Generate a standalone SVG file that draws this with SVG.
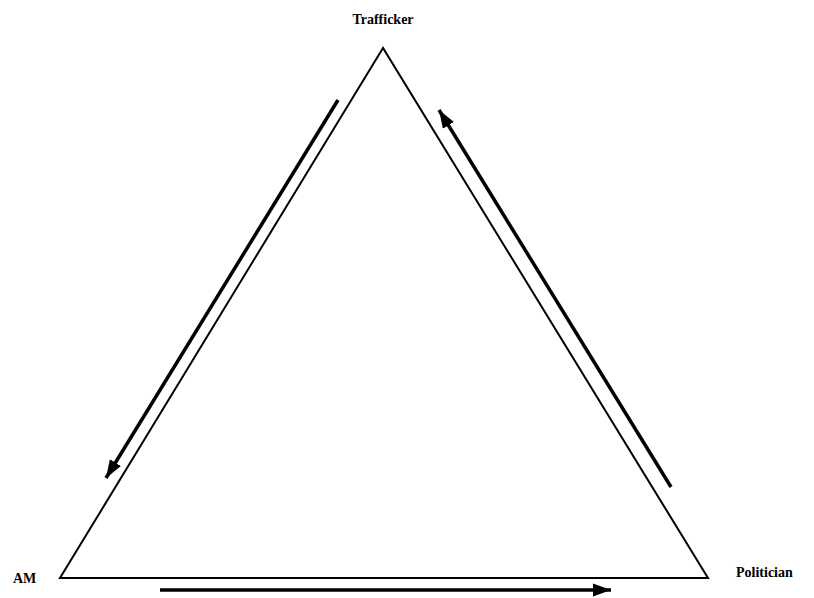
<svg xmlns="http://www.w3.org/2000/svg" width="814" height="598" viewBox="0 0 814 598">
<style>
.lbl{font-family:"Liberation Serif","Times New Roman",serif;font-weight:bold;font-size:14px;fill:#000}
.tri{fill:none;stroke:#000;stroke-width:2}
.arr{fill:none;stroke:#000;stroke-width:3.5;marker-end:url(#ah)}
</style>
<defs>
<marker id="ah" markerUnits="userSpaceOnUse" markerWidth="20" markerHeight="14" refX="18" refY="7" orient="auto">
<path d="M0,0.5 L18,7 L0,13.5 Z" fill="#000"/>
</marker>
</defs>
<rect width="814" height="598" fill="#fff"/>
<g id="triangle">
<polygon class="tri" points="383,48 60,578 708,578"/>
</g>
<g id="trafficker"><text class="lbl" x="383" y="24" text-anchor="middle">Trafficker</text></g>
<g id="am"><text class="lbl" x="13" y="583">AM</text></g>
<g id="politician"><text class="lbl" x="736" y="577">Politician</text></g>
<g id="connectors">
<line class="arr" x1="338" y1="100" x2="106" y2="478"/>
<line class="arr" x1="671" y1="487" x2="439" y2="110"/>
<line class="arr" x1="160" y1="590" x2="611" y2="590"/>
</g>
</svg>
